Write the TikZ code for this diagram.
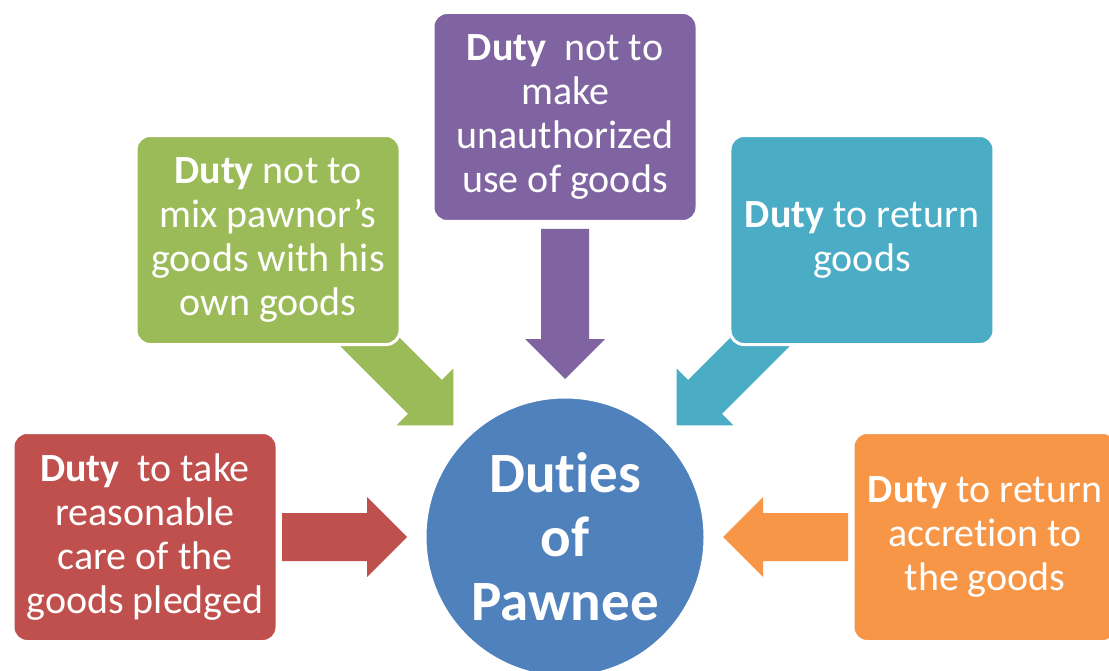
\documentclass[tikz,border=0pt]{standalone}
\usepackage{fontspec}
\setmainfont{Carlito}[Ligatures=NoCommon]
\usetikzlibrary{calc}

\definecolor{dutypurple}{HTML}{8064A2}
\definecolor{dutygreen}{HTML}{9BBB59}
\definecolor{dutyaqua}{HTML}{4BACC6}
\definecolor{dutyred}{HTML}{C0504D}
\definecolor{dutyorange}{HTML}{F79646}
\definecolor{dutyblue}{HTML}{4F81BD}

\tikzset{
	duty/.style={draw=white, line width=3pt, rounded corners=14pt, minimum width=264pt, minimum height=209pt, inner sep=0pt, align=center, text=white, font=\fontsize{40}{44}\selectfont},
	hubdisc/.style={circle, fill=dutyblue, draw=white, line width=3pt, minimum size=280pt, inner sep=0pt, align=center, text=white, font=\bfseries\fontsize{57}{64}\selectfont},
	blockarrow/.pic={\path[pic actions] (0,0) -- (-40,40) -- (-40,24) -- (-#1,24) -- (-#1,-24) -- (-40,-24) -- (-40,-40) -- cycle;}
}

\begin{document}
\begin{tikzpicture}[x=1pt, y=-1pt]
	\clip (0,0) rectangle (1109,671);
	\fill[white] (0,0) rectangle (1109,671);
	
	\node[hubdisc] (hub) at (565,537) {Duties\\of\\Pawnee};
	
	% block arrows pointing at the hub (y runs downwards, so -90 is up)
	\foreach \ang/\col/\len in {-90/dutypurple/150, 225/dutygreen/150, -45/dutyaqua/150, 180/dutyred/125, 0/dutyorange/125}
		\pic[fill=\col, rotate=180-\ang] at ($(hub)+(\ang:158)$) {blockarrow=\len};
	
	\node[duty, fill=dutypurple] (unauth) at ($(hub)+(-90:420)$) {\textbf{Duty}\ \ not to\\make\\unauthorized\\use of goods};
	\node[duty, fill=dutygreen] (mix) at ($(hub)+(225:420)$) {\textbf{Duty} not to\\mix pawnor’s\\goods with his\\own goods};
	\node[duty, fill=dutyaqua] (ret) at ($(hub)+(-45:420)$) {\textbf{Duty} to return\\goods};
	\node[duty, fill=dutyred] (care) at ($(hub)+(180:420)$) {\textbf{Duty}\ \ to take\\reasonable\\care of the\\goods pledged};
	\node[duty, fill=dutyorange] (accr) at ($(hub)+(0:420)$) {\textbf{Duty} to return\\accretion to\\the goods};
	
\end{tikzpicture}
\end{document}
